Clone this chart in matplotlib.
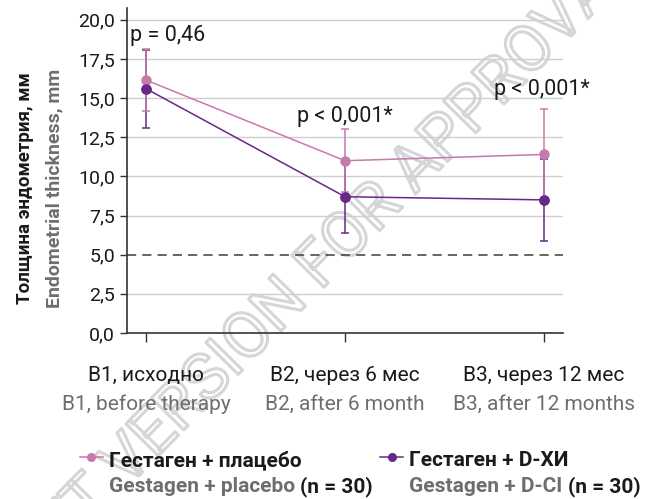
import matplotlib
matplotlib.use("Agg")
import matplotlib.pyplot as plt
import matplotlib.patheffects as pe
import matplotlib.transforms as mtrans
from matplotlib.lines import Line2D

# data
visits = [0, 1, 2]
labels_ru = ["B1, исходно", "B2, через 6 мес", "B3, через 12 мес"]
labels_en = ["B1, before therapy", "B2, after 6 month", "B3, after 12 months"]

placebo_mean = [16.15, 11.0, 11.4]
placebo_sd = [2.0, 2.0, 2.9]
dci_mean = [15.6, 8.7, 8.5]
dci_sd = [2.5, 2.3, 2.6]

p_texts = ["p = 0,46", "p < 0,001*", "p < 0,001*"]
y_ticks = [0, 2.5, 5, 7.5, 10, 12.5, 15, 17.5, 20]

PINK = "#c47aab"
PURPLE = "#672887"
GREY_TXT = "#6d6e70"
DARK = "#1a1a1a"

plt.rcParams['font.family'] = ['Roboto', 'DejaVu Sans']

W, H = 650, 499
fig = plt.figure(figsize=(6.5, 4.99), dpi=100)
ax = fig.add_axes([127 / W, 1 - 333 / H, (563 - 127) / W, (333 - 8) / H])
ax.set_zorder(1)
ax.patch.set_alpha(0)
xfig = mtrans.blended_transform_factory(ax.transData, fig.transFigure)

# watermark (outlined letters)
fig.text(296 / W, 1 - 290 / H, "DRAFT VERSION FOR APPROVAL", rotation=45.5,
         ha="center", va="center", fontsize=46, color=(1, 1, 1, 0), zorder=0,
         rotation_mode="anchor",
         path_effects=[pe.Stroke(linewidth=2.2, foreground="#d6d6d6")])

for t in y_ticks:
    if t == 5:
        ax.axhline(t, color="#3c3c3c", lw=1.1, ls=(0, (6, 4)), zorder=1)
    elif t != 0:
        ax.axhline(t, color="#cfcfcf", lw=1.0, zorder=1)

ax.errorbar(visits, dci_mean, yerr=dci_sd, color=PURPLE, lw=1.1, marker="o", ms=6.5,
            capsize=2.6, elinewidth=1.1, capthick=1.1, zorder=3)
ax.errorbar(visits, placebo_mean, yerr=placebo_sd, color=PINK, lw=1.1, marker="o", ms=6.5,
            capsize=2.6, elinewidth=1.1, capthick=1.1, zorder=4)
ax.plot(visits, dci_mean, color=PURPLE, lw=0, marker="o", ms=6.5, zorder=5)

ax.set_xlim(-0.0955, 2.095)
ax.set_ylim(0, 20.75)
ax.set_yticks(y_ticks)
ax.set_yticklabels([f"{t:.1f}".replace(".", ",") for t in y_ticks], fontsize=14, color=DARK)
ax.set_xticks(visits)
ax.set_xticklabels([])
ax.tick_params(axis="y", direction="out", length=5, width=1, color="#333333", pad=3.6)
ax.tick_params(axis="x", direction="out", length=6.5, width=1, color="#333333")
for s in ["top", "right"]:
    ax.spines[s].set_visible(False)
for s in ["left", "bottom"]:
    ax.spines[s].set_color("#333333")
    ax.spines[s].set_linewidth(1.2)

for i in visits:
    ax.text(i, 1 - 381 / H, labels_ru[i], transform=xfig, ha="center",
            va="baseline", fontsize=15, color=DARK)
    ax.text(i, 1 - 410 / H, labels_en[i], transform=xfig, ha="center",
            va="baseline", fontsize=15, color=GREY_TXT)

ax.text(130 / W, 1 - 41 / H, p_texts[0], ha="left", va="baseline", fontsize=15.5, color=DARK,
        transform=fig.transFigure)
ax.text(1, 1 - 122 / H, p_texts[1], ha="center", va="baseline", fontsize=15.5, color=DARK,
        transform=xfig)
ax.text(1.99, 1 - 95 / H, p_texts[2], ha="center", va="baseline", fontsize=15.5, color=DARK,
        transform=xfig)

fig.text(25 / W, 1 - 188 / H, "Толщина эндометрия, мм", rotation=90, ha="center",
         va="center", fontsize=13.5, fontweight="bold", color=DARK)
fig.text(54 / W, 1 - 188 / H, "Endometrial thickness, mm", rotation=90, ha="center",
         va="center", fontsize=14, fontweight="bold", color=GREY_TXT)

# legend
for x0, col, ru, en in [(80, PINK, "Гестаген + плацебо", "Gestagen + placebo"),
                        (380, PURPLE, "Гестаген + D-ХИ", "Gestagen + D-CI")]:
    fig.add_artist(Line2D([x0 / W, (x0 + 23) / W], [1 - 457 / H] * 2, color=col, lw=1.1))
    fig.add_artist(Line2D([(x0 + 11.5) / W], [1 - 457 / H], color=col, marker="o", ms=5.5))
    fig.text((x0 + 29) / W, 1 - 466 / H, ru, ha="left", va="baseline", fontsize=15,
             fontweight="bold", color=DARK)
    t = fig.text((x0 + 29) / W, 1 - 492 / H, en + " ", ha="left", va="baseline", fontsize=15,
                 fontweight="bold", color=GREY_TXT)
    fig.canvas.draw()
    bb = t.get_window_extent()
    fig.text(bb.x1 / W, 1 - 492 / H, "(n = 30)", ha="left", va="baseline", fontsize=15,
             fontweight="bold", color=DARK)

fig.savefig("out.png", dpi=100)
